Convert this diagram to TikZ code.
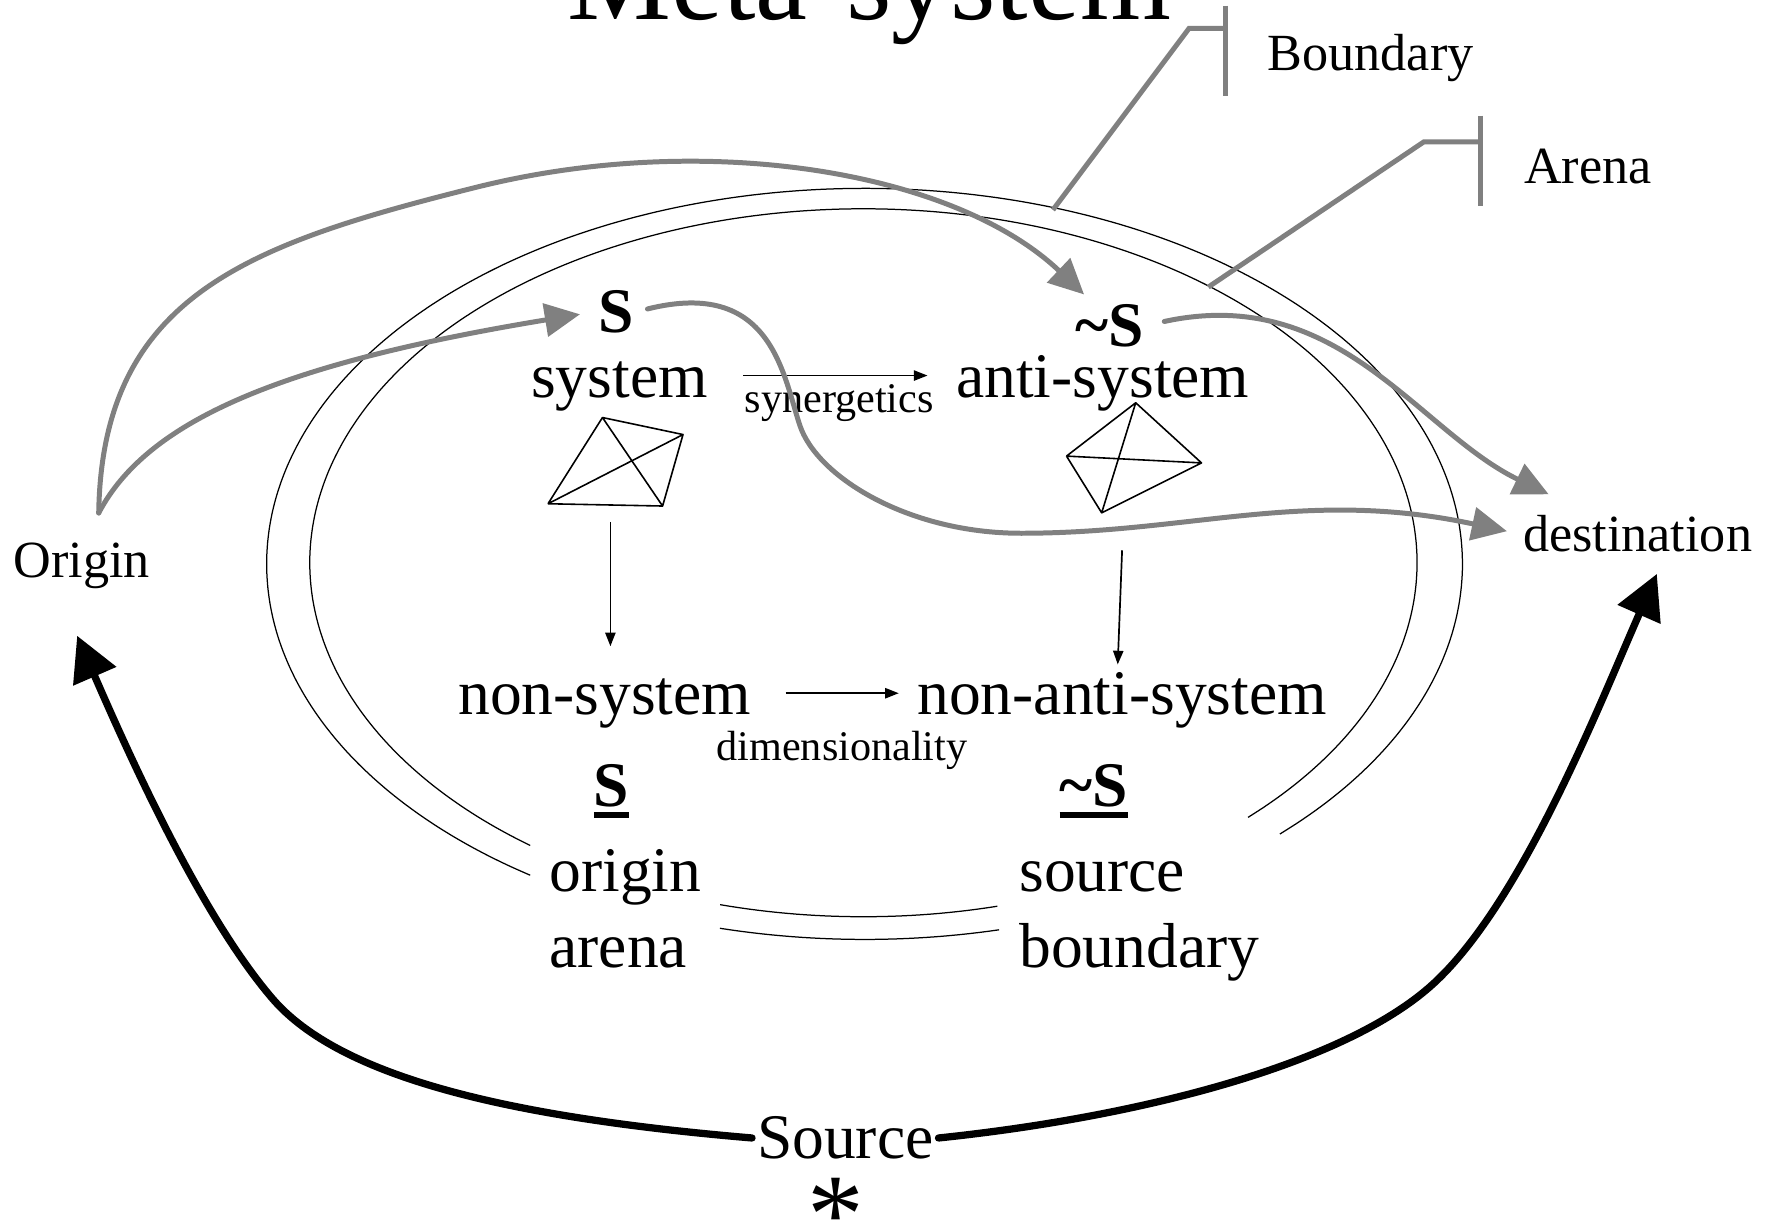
\documentclass[tikz,border=0pt]{standalone}
\usepackage{fontspec}
\setmainfont{Liberation Serif}
\usetikzlibrary{arrows.meta,positioning}
\definecolor{cG}{HTML}{808080}
\tikzset{
  word/.style={font=\fontsize{28}{30}\selectfont,inner sep=2pt,text height=18pt,text depth=6.2pt},
  sigil/.style={font=\fontsize{28}{30}\selectfont\bfseries,inner sep=1pt},
  tag/.style={font=\fontsize{23}{25}\selectfont,inner sep=2pt},
  note/.style={font=\fontsize{18.6}{20}\selectfont,inner sep=1pt},
  wire/.style={line width=0.7pt,line join=round},
  rim/.style={line width=0.55pt},
  flow/.style={cG,line width=2.2pt,line cap=round,-{Triangle[length=15.5pt,width=14.5pt]}},
  push/.style={line width=3.2pt,line cap=round,-{Triangle[length=19.5pt,width=20pt]}},
  hint/.style={line width=0.75pt,-{Triangle[length=6pt,width=4.5pt]}},
  leader/.style={cG,line width=2.2pt}}
\newsavebox{\ulbox}
\newcommand{\ulbf}[1]{\sbox{\ulbox}{\bfseries #1}\usebox{\ulbox}\llap{\rule[-0.18em]{\wd\ulbox}{0.09em}}}
\newcommand{\tetra}[4]{\draw[wire] (#1) -- (#2) -- (#3) -- cycle (#4) -- (#1) (#4) -- (#2) (#4) -- (#3);}
\newcommand{\ringarc}[6]{\draw[rim] plot[domain=#5:#6,samples=120,smooth] ({#1+#3*cos(\x)},{#2+#4*sin(\x)});}

\begin{document}
\begin{tikzpicture}[x=0.5pt,y=-0.5pt]
  \useasboundingbox (0,0) rectangle (1568,1082);
  \clip (0,0) rectangle (1568,1082);
  \node[font=\fontsize{51.5}{55}\selectfont,anchor=base] (title) at (766,17) {Meta-system};
  \ringarc{761}{496}{488}{312}{127}{406}
  \ringarc{761}{496}{488}{312}{76}{105}
  \ringarc{762}{497}{527}{331}{124}{406}
  \ringarc{762}{497}{527}{331}{77}{104}
  \node[sigil,anchor=base] (S) at (543,293) {S};
  \node[word,anchor=base] (sys) at (546,350) {system};
  \node[sigil,anchor=base] (aS) at (978,305) {\textasciitilde S};
  \node[word,anchor=base] (anti) at (972,350) {anti-system};
  \node[word,anchor=base] (nonsys) at (533,630) {non-system};
  \node[word,anchor=base] (nonanti) at (989,630) {non-anti-system};
  \node[word,anchor=base] (uS) at (539,711) {\ulbf{S}};
  \node[word,anchor=base] (uaS) at (964,711) {\ulbf{\textasciitilde S}};
  \node[word,anchor=base west] (orig) at (480,786) {origin};
  \node[word,anchor=base west] (arena) at (480,853) {arena};
  \node[word,anchor=base west] (src) at (894,786) {source};
  \node[word,anchor=base west] (bnd) at (894,853) {boundary};
  \node[word,text depth=0pt,anchor=base] (Source) at (745,1021) {Source};
  \node[font=\fontsize{50}{50}\selectfont,inner sep=0pt,anchor=base] (star) at (737,1078) {\raisebox{-0.26em}[0.42em][0pt]{*}};
  \node[tag,anchor=base] (Origin) at (72,509) {Origin};
  \node[tag,anchor=base west] (dest) at (1338,486) {destination};
  \node[tag,anchor=base west] (Bnd) at (1113,62) {Boundary};
  \node[tag,anchor=base west] (Arn) at (1339,162) {Arena};
  \tetra{531,368}{602,383}{584,446}{483,444}
  \tetra{1001,355}{1059,408}{971,452}{940,402}
  \coordinate (tetL) at (538,460);
  \coordinate (tetR) at (989,485);
  \draw[hint,shorten >=10pt] (tetL) -- (nonsys.north -| tetL);
  \draw[hint,shorten >=2pt] (tetR) -- ([xshift=-2pt]nonanti.north);
  \draw[hint,shorten <=13.5pt,shorten >=10.5pt] ([yshift=3.6pt]sys.east) -- ([yshift=3.6pt]anti.west)
    node[note,pos=0.53,below=2.8pt] (syn) {synergetics};
  \draw[hint,shorten <=13pt,shorten >=6pt] ([yshift=3.6pt]nonsys.east) -- ([yshift=3.6pt]nonanti.west)
    node[note,pos=0.549,below=15.5pt] (dim) {dimensionality};
  \draw[leader] (928,185) -- (1048,25) -- (1080,25);
  \draw[leader] (1080,5) -- (1080,85);
  \draw[leader] (1065,253) -- (1255,125) -- (1305,125);
  \draw[leader] (1305,102) -- (1305,182);
  \coordinate (oTop) at ([shift={(15,-22)}]Origin.north);
  \coordinate (oBot) at ([shift={(-4,37)}]Origin.south);
  \coordinate (sTop) at ([shift={(10,-6)}]aS.north west);
  \coordinate (dTop) at ([shift={(27,-14)}]dest.north west);
  \coordinate (dBot) at ([shift={(17,15)}]dest.south);
  \draw[flow] (oTop) .. controls (90,260) and (220,215) .. (420,165) .. controls (620,115) and (840,150) .. (sTop);
  \draw[flow,shorten >=7pt] (oTop) .. controls (130,370) and (250,320) .. (S.west);
  \draw[flow,shorten <=5pt,shorten >=5pt] (S.east) .. controls (680,245) and (690,330) .. (705,375)
    .. controls (720,420) and (800,470) .. (900,470) .. controls (1050,470) and (1150,430) .. (dest.west);
  \draw[flow,shorten <=8pt] (aS.east) .. controls (1180,250) and (1250,380) .. (dTop);
  \draw[push] (Source.west) .. controls (450,985) and (300,950) .. (240,880) .. controls (180,810) and (120,680) .. (oBot);
  \draw[push] (Source.east) .. controls (1000,985) and (1180,940) .. (1260,870) .. controls (1340,800) and (1410,620) .. (dBot);
\end{tikzpicture}
\end{document}
